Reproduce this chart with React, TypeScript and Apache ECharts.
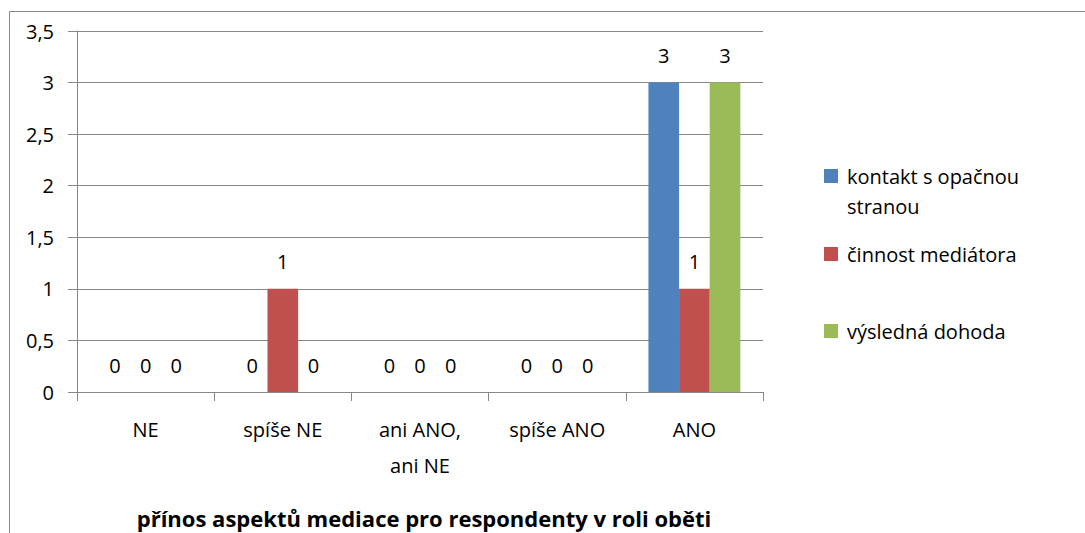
import React, { useEffect, useRef } from "react";
import * as echarts from "echarts";

const categories = ["NE", "spíše NE", "ani ANO, ani NE", "spíše ANO", "ANO"];
const seriesNames = ["kontakt s opačnou stranou", "činnost mediátora", "výsledná dohoda"];
const kontakt = [0, 0, 0, 0, 3];
const cinnost = [0, 1, 0, 0, 1];
const dohoda = [0, 0, 0, 0, 3];
const colors = ["#4F81BD", "#C0504D", "#9BBB59"];
const titleText = "přínos aspektů mediace pro respondenty v roli oběti";

const FONT = "'Open Sans', sans-serif";
const GRAY = "#878787";

export default function App() {
  const ref = useRef<HTMLDivElement>(null);
  useEffect(() => {
    if (!ref.current) return;
    const chart = echarts.init(ref.current, null, { renderer: "svg" });
    const values = [kontakt, cinnost, dohoda];
    const legendBase = {
      orient: "vertical",
      left: 824,
      padding: 0,
      itemWidth: 14,
      itemHeight: 14,
      textStyle: {
        fontFamily: FONT,
        fontSize: 20,
        color: "#000",
        lineHeight: 14,
        padding: [0, 0, 0, 4],
      },
    };
    chart.setOption({
      animation: false,
      backgroundColor: "#fff",
      color: colors,
      title: {
        text: titleText,
        left: 424,
        textAlign: "center",
        top: 507,
        padding: 0,
        textStyle: { fontFamily: FONT, fontSize: 22, fontWeight: "bold", color: "#000" },
      },
      graphic: [
        {
          type: "rect",
          shape: { x: 9.5, y: 11.5, width: 1200, height: 700 },
          style: { fill: "none", stroke: GRAY, lineWidth: 1 },
          silent: true,
        },
      ],
      legend: [
        {
          ...legendBase,
          top: 161,
          itemHeight: 44,
          data: [
            {
              name: seriesNames[0],
              icon: "path://M0 0H14V14H0Z M0 43.99H0.01V44H0Z",
            },
          ],
          formatter: () => "kontakt s opačnou\nstranou",
          textStyle: { ...legendBase.textStyle, lineHeight: 30 },
        },
        { ...legendBase, top: 244, data: [{ name: seriesNames[1], icon: "rect" }] },
        { ...legendBase, top: 321, data: [{ name: seriesNames[2], icon: "rect" }] },
      ],
      grid: { left: 77, right: 322, top: 31, bottom: 141, containLabel: false },
      xAxis: {
        type: "category",
        data: categories,
        axisLine: { lineStyle: { color: GRAY } },
        axisTick: { show: true, length: 9, lineStyle: { color: GRAY } },
        axisLabel: {
          fontFamily: FONT,
          fontSize: 20,
          color: "#000",
          margin: 19,
          lineHeight: 36,
          interval: 0,
          formatter: (v: string) => v.replace(", ", ",\n"),
        },
      },
      yAxis: {
        type: "value",
        min: 0,
        max: 3.5,
        interval: 0.5,
        axisLine: { show: true, lineStyle: { color: GRAY } },
        axisTick: { show: true, length: 9, lineStyle: { color: GRAY } },
        splitLine: { lineStyle: { color: GRAY } },
        axisLabel: {
          fontFamily: FONT,
          fontSize: 20,
          color: "#000",
          margin: 23,
          formatter: (v: number) => String(v).replace(".", ","),
        },
      },
      series: seriesNames.map((name, i) => ({
        name,
        type: "bar",
        data: values[i],
        barGap: "0%",
        barCategoryGap: "33%",
        itemStyle: { color: colors[i] },
        label: {
          show: true,
          position: "top",
          distance: 17,
          fontFamily: FONT,
          fontSize: 20,
          color: "#000",
        },
      })),
    });
    return () => chart.dispose();
  }, []);
  return (
    <div
      ref={ref}
      style={{ position: "fixed", left: 0, top: 0, width: 1085, height: 533 }}
    />
  );
}
